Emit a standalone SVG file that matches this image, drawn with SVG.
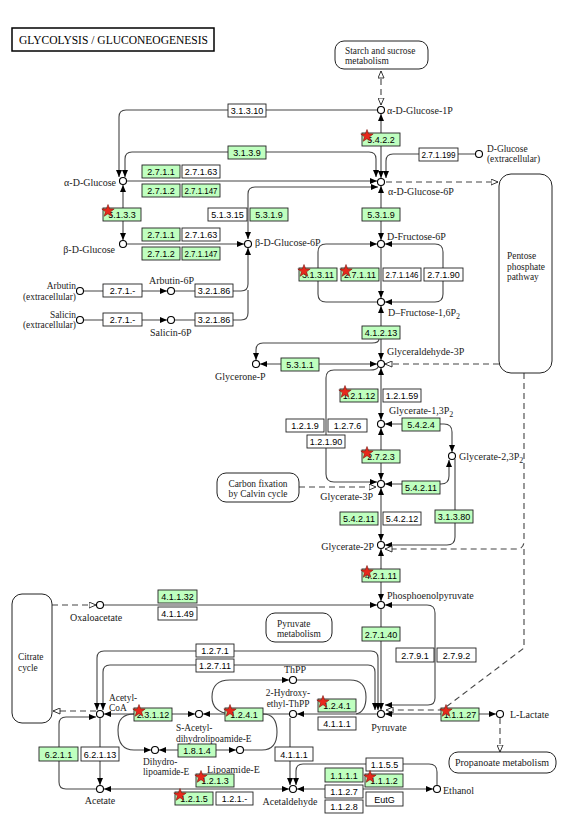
<svg xmlns="http://www.w3.org/2000/svg" xmlns:xlink="http://www.w3.org/1999/xlink" width="571" height="820" viewBox="0 0 571 820">
<style>
.ln{fill:none;stroke:#444;stroke-width:1.1}
.dl{fill:none;stroke:#444;stroke-width:1.1;stroke-dasharray:6,4}
.g{fill:#bfffbf;stroke:#222;stroke-width:0.9}
.w{fill:#fff;stroke:#222;stroke-width:0.9}
.et{font-family:"Liberation Sans",Arial,sans-serif;font-size:9px;text-anchor:middle;fill:#000}
.ct{font-family:"Liberation Serif","Times New Roman",serif;font-size:10px;fill:#222}
.ml{font-size:9.4px}
.m{text-anchor:middle}
.e{text-anchor:end}
.cp{fill:#fff;stroke:#000;stroke-width:1.1}
.map{fill:#fff;stroke:#222;stroke-width:1}
</style>
<defs>
<marker id="a" viewBox="0 0 7 6" refX="7" refY="3" markerWidth="7" markerHeight="6" markerUnits="userSpaceOnUse" orient="auto-start-reverse"><path d="M0,0 L7,3 L0,6 z" fill="#000"/></marker>
<marker id="o" viewBox="0 0 8 7" refX="7.5" refY="3.5" markerWidth="8" markerHeight="7" markerUnits="userSpaceOnUse" orient="auto-start-reverse"><path d="M0.5,0.5 L7.5,3.5 L0.5,6.5 z" fill="#fff" stroke="#222" stroke-width="0.9"/></marker>
<path id="star" d="M0,-6.5 L1.59,-2.18 L6.18,-2.01 L2.57,0.83 L3.82,5.26 L0,2.7 L-3.82,5.26 L-2.57,0.83 L-6.18,-2.01 L-1.59,-2.18 Z" fill="#e8281c" stroke="#7a1a10" stroke-width="0.6"/>
</defs>
<rect width="571" height="820" fill="#fff"/>

<g id="title"><rect x="12" y="28" width="202" height="23" fill="#fff" stroke="#000" stroke-width="1.5"/><text x="19" y="44" font-family="Liberation Serif,serif" font-size="11.5" textLength="189" lengthAdjust="spacingAndGlyphs">GLYCOLYSIS / GLUCONEOGENESIS</text></g>

<g id="connectors">
<path class="dl" d="M381,105 L381,71" marker-start="url(#o)" marker-end="url(#o)"/>
<path class="ln" d="M377,110 L126,110 Q119,110 119,117 L119,177" marker-end="url(#a)"/>
<path class="ln" d="M376,177 L376,159 Q376,152 369,152 L132,152 Q125,152 125,159 L125,177" marker-start="url(#a)" marker-end="url(#a)"/>
<path class="ln" d="M381,114 L381,178" marker-start="url(#a)" marker-end="url(#a)"/>
<path class="ln" d="M475,154 L393,154 Q386,154 386,161 L386,178" marker-end="url(#a)"/>
<path class="ln" d="M127,181 L377,181" marker-end="url(#a)"/>
<path class="ln" d="M248,239 L248,194 Q248,187 255,187 L378,187" marker-start="url(#a)" marker-end="url(#a)"/>
<path class="ln" d="M123,185 L123,240" marker-start="url(#a)" marker-end="url(#a)"/>
<path class="ln" d="M127,244 L244,244" marker-end="url(#a)"/>
<path class="ln" d="M84,291 L167,291" marker-end="url(#a)"/>
<path class="ln" d="M175,291 L241,291 Q248,291 248,284 L248,248" marker-end="url(#a)"/>
<path class="ln" d="M84,320 L167,320" marker-end="url(#a)"/>
<path class="ln" d="M175,320 L241,320 Q248,320 248,313 L248,290"/>
<path class="dl" d="M386,182 L498,182" marker-end="url(#o)"/>
<path class="ln" d="M381,186 L381,240" marker-start="url(#a)" marker-end="url(#a)"/>
<path class="ln" d="M381,248 L381,298" marker-end="url(#a)"/>
<path class="ln" d="M377,302 L326,302 Q318,302 318,294 L318,252 Q318,244 326,244 L377,244" marker-end="url(#a)"/>
<path class="ln" d="M385,244 L435,244 Q443,244 443,252 L443,294 Q443,302 435,302 L385,302" marker-start="url(#a)" marker-end="url(#a)"/>
<path class="ln" d="M381,306 L381,360" marker-start="url(#a)" marker-end="url(#a)"/>
<path class="ln" d="M379,339 Q379,343 372,343 L263,343 Q256,343 256,350 L256,360" marker-end="url(#a)"/>
<path class="ln" d="M260,364 L377,364" marker-start="url(#a)" marker-end="url(#a)"/>
<path class="dl" d="M499,364 L385,364" marker-end="url(#o)"/>
<path class="ln" d="M381,368 L381,420" marker-start="url(#a)" marker-end="url(#a)"/>
<path class="ln" d="M378,367 Q377,370 370,370 L334,370 Q326,370 326,378 L326,474 Q326,482 334,482 L377,482" marker-end="url(#a)"/>
<path class="ln" d="M385,424 L444,424 Q452,424 452,432 L452,452" marker-start="url(#a)" marker-end="url(#a)"/>
<path class="ln" d="M381,428 L381,480" marker-start="url(#a)" marker-end="url(#a)"/>
<path class="ln" d="M385,484 L441,484 Q449,484 449,476 L449,460" marker-start="url(#a)" marker-end="url(#a)"/>
<path class="dl" d="M299,487 L376,487" marker-end="url(#o)"/>
<path class="ln" d="M455,459 L455,537 Q455,545 447,545 L385,545" marker-end="url(#a)"/>
<path class="ln" d="M381,488 L381,541" marker-start="url(#a)" marker-end="url(#a)"/>
<path class="dl" d="M524,373 L524,541 Q524,549 516,549 L385,549" marker-end="url(#o)"/>
<path class="dl" d="M524,549 L524,648 L442,710 L386,710" marker-end="url(#o)"/>
<path class="ln" d="M381,549 L381,601" marker-start="url(#a)" marker-end="url(#a)"/>
<path class="dl" d="M52,605 L96,605" marker-end="url(#o)"/>
<path class="ln" d="M104,605 L377,605" marker-end="url(#a)"/>
<path class="ln" d="M385,605 L427,605 Q435,605 435,613 L435,698 Q435,705 428,705 L385,705" marker-start="url(#a)" marker-end="url(#a)"/>
<path class="ln" d="M381,609 L381,710" marker-end="url(#a)"/>
<path class="ln" d="M378,710 L378,658 Q378,651 371,651 L104,651 Q97,651 97,658 L97,710" marker-start="url(#a)" marker-end="url(#a)"/>
<path class="ln" d="M375,710 L375,672 Q375,665 368,665 L110,665 Q103,665 103,672 L103,710" marker-start="url(#a)" marker-end="url(#a)"/>
<path class="ln" d="M377,714 L297,714" marker-end="url(#a)"/>
<path class="ln" d="M289,714 L203,714" marker-end="url(#a)"/>
<path class="ln" d="M195,714 L104,714" marker-start="url(#a)" marker-end="url(#a)"/>
<path class="ln" d="M230,714 Q212,712 212,697 Q212,680 230,680 L289,680" marker-end="url(#a)"/>
<path class="ln" d="M297,680 L350,680 Q366,680 366,697 Q366,712 356,714"/>
<path class="ln" d="M290,718 L290,785" marker-end="url(#a)"/>
<path class="ln" d="M134,714 Q118,714 118,730 Q118,750 134,750 L151,750" marker-end="url(#a)"/>
<path class="ln" d="M159,750 L236,750" marker-start="url(#a)" marker-end="url(#a)"/>
<path class="ln" d="M244,750 L262,750 Q277,750 277,732 Q277,714 263,714"/>
<path class="ln" d="M100,718 L100,785" marker-end="url(#a)"/>
<path class="ln" d="M96,789 L66,789 Q59,789 59,782 L59,724 Q59,717 66,717 L96,717" marker-end="url(#a)"/>
<path class="dl" d="M96,711 L53,711" marker-end="url(#o)"/>
<path class="ln" d="M104,789 L289,789" marker-start="url(#a)" marker-end="url(#a)"/>
<path class="ln" d="M297,789 L433,789" marker-start="url(#a)" marker-end="url(#a)"/>
<path class="ln" d="M437,785 L437,772 Q437,764 429,764 L303,764 Q296,764 296,771 L296,785" marker-end="url(#a)"/>
<path class="ln" d="M385,714 L496,714" marker-start="url(#a)" marker-end="url(#a)"/>
<path class="dl" d="M500,718 L500,752" marker-end="url(#o)"/>
</g>

<g id="maps" class="ct">
<g id="m-starch"><rect class="map" x="335" y="41" width="93" height="28" rx="9"/><text class="ml" x="345" y="53.5">Starch and sucrose</text><text class="ml" x="345" y="64">metabolism</text></g>
<g id="m-ppp"><rect class="map" x="499" y="174" width="53" height="199" rx="12"/><text class="ml" x="507" y="259">Pentose</text><text class="ml" x="507" y="269.6">phosphate</text><text class="ml" x="507" y="280.2">pathway</text></g>
<g id="m-calvin"><rect class="map" x="217" y="473" width="82" height="29" rx="9"/><text class="ml m" x="258" y="486.5">Carbon fixation</text><text class="ml m" x="258" y="497">by Calvin cycle</text></g>
<g id="m-tca"><rect class="map" x="12" y="594" width="40" height="129" rx="10"/><text class="ml" x="18" y="660">Citrate</text><text class="ml" x="18" y="670.6">cycle</text></g>
<g id="m-pyr"><rect class="map" x="266" y="613" width="66" height="29" rx="9"/><text class="ml" x="277" y="626.5">Pyruvate</text><text class="ml" x="277" y="637">metabolism</text></g>
<g id="m-prop"><rect class="map" x="449" y="752" width="107" height="21" rx="9"/><text class="m" x="502" y="766">Propanoate metabolism</text></g>
</g>

<g id="compounds" class="ct">
<g id="c-g1p"><circle class="cp" cx="381" cy="110" r="3.5"/><text x="387" y="114">α-D-Glucose-1P</text></g>
<g id="c-aglc"><circle class="cp" cx="123" cy="181" r="3.5"/><text class="e" x="116" y="185.5">α-D-Glucose</text></g>
<g id="c-bglc"><circle class="cp" cx="123" cy="244" r="3.5"/><text class="e" x="115" y="253">β-D-Glucose</text></g>
<g id="c-bg6p"><circle class="cp" cx="248" cy="244" r="3.5"/><text x="255" y="246">β-D-Glucose-6P</text></g>
<g id="c-g6p"><circle class="cp" cx="381" cy="182" r="3.5"/><text x="388" y="195">α-D-Glucose-6P</text></g>
<g id="c-glcex"><circle class="cp" cx="479" cy="154" r="3.5"/><text class="ml" x="487" y="151.5">D-Glucose</text><text class="ml" x="487" y="162">(extracellular)</text></g>
<g id="c-arb"><circle class="cp" cx="80" cy="291" r="3.5"/><text class="ml e" x="76" y="289">Arbutin</text><text class="ml e" x="76" y="299.6">(extracellular)</text></g>
<g id="c-arb6p"><circle class="cp" cx="171" cy="291" r="3.5"/><text x="149" y="284">Arbutin-6P</text></g>
<g id="c-sal"><circle class="cp" cx="80" cy="320" r="3.5"/><text class="ml e" x="76" y="317.5">Salicin</text><text class="ml e" x="76" y="328.1">(extracellular)</text></g>
<g id="c-sal6p"><circle class="cp" cx="171" cy="320" r="3.5"/><text x="150" y="336">Salicin-6P</text></g>
<g id="c-f6p"><circle class="cp" cx="381" cy="244" r="3.5"/><text x="387" y="240">D-Fructose-6P</text></g>
<g id="c-fbp"><circle class="cp" cx="381" cy="302" r="3.5"/><text x="388" y="316">D–Fructose-1,6P<tspan dy="3" font-size="8">2</tspan></text></g>
<g id="c-gap"><circle class="cp" cx="381" cy="364" r="3.5"/><text x="387" y="355">Glyceraldehyde-3P</text></g>
<g id="c-dhap"><circle class="cp" cx="256" cy="364" r="3.5"/><text x="215" y="380">Glycerone-P</text></g>
<g id="c-bpg"><circle class="cp" cx="381" cy="424" r="3.5"/><text x="389" y="414">Glycerate-1,3P<tspan dy="3" font-size="8">2</tspan></text></g>
<g id="c-23bpg"><circle class="cp" cx="452" cy="456" r="3.5"/><text x="459" y="460">Glycerate-2,3P<tspan dy="3" font-size="8">2</tspan></text></g>
<g id="c-3pg"><circle class="cp" cx="381" cy="484" r="3.5"/><text class="e" x="373" y="500">Glycerate-3P</text></g>
<g id="c-2pg"><circle class="cp" cx="381" cy="545" r="3.5"/><text class="e" x="374" y="550">Glycerate-2P</text></g>
<g id="c-pep"><circle class="cp" cx="381" cy="605" r="3.5"/><text x="387" y="599">Phosphoenolpyruvate</text></g>
<g id="c-oaa"><circle class="cp" cx="100" cy="605" r="3.5"/><text x="70" y="621">Oxaloacetate</text></g>
<g id="c-pyr"><circle class="cp" cx="381" cy="714" r="3.5"/><text class="m" x="389" y="731">Pyruvate</text></g>
<g id="c-lac"><circle class="cp" cx="500" cy="714" r="3.5"/><text x="510" y="718">L-Lactate</text></g>
<g id="c-thpp"><circle class="cp" cx="293" cy="680" r="3.5"/><text class="m" x="295" y="673">ThPP</text></g>
<g id="c-hethpp"><circle class="cp" cx="293" cy="714" r="3.5"/><text class="ml m" x="288" y="696">2-Hydroxy-</text><text class="ml m" x="288" y="706.6">ethyl-ThPP</text></g>
<g id="c-sacdl"><circle class="cp" cx="199" cy="714" r="3.5"/><text class="ml" x="176" y="731">S-Acetyl-</text><text class="ml" x="176" y="741.6">dihydrolipoamide-E</text></g>
<g id="c-accoa"><circle class="cp" cx="100" cy="714" r="3.5"/><text class="ml" x="109" y="700.5">Acetyl-</text><text class="ml" x="109" y="711.1">CoA</text></g>
<g id="c-dhl"><circle class="cp" cx="155" cy="750" r="3.5"/><text class="ml" x="143" y="764.5">Dihydro-</text><text class="ml" x="143" y="775.1">lipoamide-E</text></g>
<g id="c-lip"><circle class="cp" cx="240" cy="750" r="3.5"/><text x="207" y="772.5">Lipoamide-E</text></g>
<g id="c-ace"><circle class="cp" cx="100" cy="789" r="3.5"/><text class="m" x="100" y="803.5">Acetate</text></g>
<g id="c-acald"><circle class="cp" cx="293" cy="789" r="3.5"/><text class="m" x="290" y="805">Acetaldehyde</text></g>
<g id="c-etoh"><circle class="cp" cx="437" cy="789" r="3.5"/><text x="443" y="793.5">Ethanol</text></g>
</g>

<g id="enzymes" class="et">
<g id="e-3.1.3.10"><rect class="w" x="228" y="104" width="38" height="13"/><text x="247" y="114">3.1.3.10</text></g>
<g id="e-3.1.3.9"><rect class="g" x="228" y="146" width="38" height="13"/><text x="247" y="156">3.1.3.9</text></g>
<g id="e-5.4.2.2"><rect class="g" x="362" y="133" width="38" height="13"/><text x="381" y="143">5.4.2.2</text><use href="#star" x="367" y="136"/></g>
<g id="e-2.7.1.199"><rect class="w" x="419" y="148" width="39" height="13"/><text x="438.5" y="158" textLength="34" lengthAdjust="spacingAndGlyphs">2.7.1.199</text></g>
<g id="e-2.7.1.1a"><rect class="g" x="142" y="165" width="38" height="13"/><text x="161" y="175">2.7.1.1</text></g>
<g id="e-2.7.1.63a"><rect class="w" x="182" y="165" width="38" height="13"/><text x="201" y="175">2.7.1.63</text></g>
<g id="e-2.7.1.2a"><rect class="g" x="142" y="184" width="38" height="13"/><text x="161" y="194">2.7.1.2</text></g>
<g id="e-2.7.1.147a"><rect class="g" x="182" y="184" width="38" height="13"/><text x="201" y="194" textLength="33" lengthAdjust="spacingAndGlyphs">2.7.1.147</text></g>
<g id="e-5.1.3.3"><rect class="g" x="103" y="208" width="38" height="13"/><text x="122" y="218">5.1.3.3</text><use href="#star" x="108" y="211"/></g>
<g id="e-5.1.3.15"><rect class="w" x="208" y="208" width="39" height="13"/><text x="227.5" y="218">5.1.3.15</text></g>
<g id="e-5.3.1.9a"><rect class="g" x="250" y="208" width="38" height="13"/><text x="269" y="218">5.3.1.9</text></g>
<g id="e-2.7.1.1b"><rect class="g" x="142" y="228" width="38" height="13"/><text x="161" y="238">2.7.1.1</text></g>
<g id="e-2.7.1.63b"><rect class="w" x="182" y="228" width="38" height="13"/><text x="201" y="238">2.7.1.63</text></g>
<g id="e-2.7.1.2b"><rect class="g" x="142" y="247" width="38" height="13"/><text x="161" y="257">2.7.1.2</text></g>
<g id="e-2.7.1.147b"><rect class="g" x="182" y="247" width="38" height="13"/><text x="201" y="257" textLength="33" lengthAdjust="spacingAndGlyphs">2.7.1.147</text></g>
<g id="e-2.7.1.-a"><rect class="w" x="103" y="284" width="39" height="13"/><text x="122.5" y="294">2.7.1.-</text></g>
<g id="e-3.2.1.86a"><rect class="w" x="195" y="284" width="38" height="13"/><text x="214" y="294">3.2.1.86</text></g>
<g id="e-2.7.1.-b"><rect class="w" x="103" y="313" width="39" height="13"/><text x="122.5" y="323">2.7.1.-</text></g>
<g id="e-3.2.1.86b"><rect class="w" x="195" y="313" width="38" height="13"/><text x="214" y="323">3.2.1.86</text></g>
<g id="e-5.3.1.9b"><rect class="g" x="362" y="208" width="38" height="13"/><text x="381" y="218">5.3.1.9</text></g>
<g id="e-3.1.3.11"><rect class="g" x="299" y="268" width="38" height="13"/><text x="318" y="278">3.1.3.11</text><use href="#star" x="304" y="271"/></g>
<g id="e-2.7.1.11"><rect class="g" x="341" y="268" width="38" height="13"/><text x="360" y="278">2.7.1.11</text><use href="#star" x="346" y="271"/></g>
<g id="e-2.7.1.146"><rect class="w" x="383" y="268" width="38" height="13"/><text x="402" y="278" textLength="33" lengthAdjust="spacingAndGlyphs">2.7.1.146</text></g>
<g id="e-2.7.1.90"><rect class="w" x="424" y="268" width="39" height="13"/><text x="443.5" y="278">2.7.1.90</text></g>
<g id="e-4.1.2.13"><rect class="g" x="362" y="326" width="38" height="13"/><text x="381" y="336">4.1.2.13</text></g>
<g id="e-5.3.1.1"><rect class="g" x="281" y="358" width="38" height="13"/><text x="300" y="368">5.3.1.1</text></g>
<g id="e-1.2.1.12"><rect class="g" x="340" y="389" width="38" height="13"/><text x="359" y="399">1.2.1.12</text><use href="#star" x="345" y="392"/></g>
<g id="e-1.2.1.59"><rect class="w" x="383" y="389" width="38" height="13"/><text x="402" y="399">1.2.1.59</text></g>
<g id="e-1.2.1.9"><rect class="w" x="286" y="419" width="38" height="13"/><text x="305" y="429">1.2.1.9</text></g>
<g id="e-1.2.7.6"><rect class="w" x="328" y="419" width="39" height="13"/><text x="347.5" y="429">1.2.7.6</text></g>
<g id="e-1.2.1.90"><rect class="w" x="307" y="435" width="38" height="13"/><text x="326" y="445">1.2.1.90</text></g>
<g id="e-5.4.2.4"><rect class="g" x="402" y="418" width="38" height="13"/><text x="421" y="428">5.4.2.4</text></g>
<g id="e-2.7.2.3"><rect class="g" x="362" y="450" width="38" height="13"/><text x="381" y="460">2.7.2.3</text><use href="#star" x="367" y="453"/></g>
<g id="e-5.4.2.11a"><rect class="g" x="402" y="481" width="38" height="13"/><text x="421" y="491">5.4.2.11</text></g>
<g id="e-5.4.2.11b"><rect class="g" x="340" y="512" width="38" height="13"/><text x="359" y="522">5.4.2.11</text></g>
<g id="e-5.4.2.12"><rect class="w" x="383" y="512" width="38" height="13"/><text x="402" y="522">5.4.2.12</text></g>
<g id="e-3.1.3.80"><rect class="g" x="435" y="510" width="38" height="13"/><text x="454" y="520">3.1.3.80</text></g>
<g id="e-4.2.1.11"><rect class="g" x="362" y="569" width="38" height="13"/><text x="381" y="579">4.2.1.11</text><use href="#star" x="367" y="572"/></g>
<g id="e-4.1.1.32"><rect class="g" x="158" y="590" width="39" height="13"/><text x="177.5" y="600">4.1.1.32</text></g>
<g id="e-4.1.1.49"><rect class="w" x="158" y="607" width="39" height="13"/><text x="177.5" y="617">4.1.1.49</text></g>
<g id="e-2.7.1.40"><rect class="g" x="362" y="627" width="38" height="14"/><text x="381" y="637.5">2.7.1.40</text></g>
<g id="e-2.7.9.1"><rect class="w" x="396" y="648" width="38" height="14"/><text x="415" y="658.5">2.7.9.1</text></g>
<g id="e-2.7.9.2"><rect class="w" x="437" y="648" width="39" height="14"/><text x="456.5" y="658.5">2.7.9.2</text></g>
<g id="e-1.2.7.1"><rect class="w" x="196" y="644" width="38" height="13"/><text x="215" y="654">1.2.7.1</text></g>
<g id="e-1.2.7.11"><rect class="w" x="196" y="659" width="38" height="13"/><text x="215" y="669">1.2.7.11</text></g>
<g id="e-2.3.1.12"><rect class="g" x="134" y="708" width="38" height="13"/><text x="153" y="718">2.3.1.12</text><use href="#star" x="139" y="711"/></g>
<g id="e-1.2.4.1a"><rect class="g" x="225" y="708" width="38" height="13"/><text x="244" y="718">1.2.4.1</text><use href="#star" x="230" y="711"/></g>
<g id="e-1.2.4.1b"><rect class="g" x="318" y="699" width="38" height="13"/><text x="337" y="709">1.2.4.1</text><use href="#star" x="323" y="702"/></g>
<g id="e-4.1.1.1a"><rect class="w" x="318" y="717" width="38" height="13"/><text x="337" y="727">4.1.1.1</text></g>
<g id="e-1.1.1.27"><rect class="g" x="441" y="708" width="38" height="13"/><text x="460" y="718">1.1.1.27</text><use href="#star" x="446" y="711"/></g>
<g id="e-6.2.1.1"><rect class="g" x="39" y="747" width="39" height="14"/><text x="58.5" y="757.5">6.2.1.1</text></g>
<g id="e-6.2.1.13"><rect class="w" x="81" y="747" width="38" height="14"/><text x="100" y="757.5">6.2.1.13</text></g>
<g id="e-1.8.1.4"><rect class="g" x="178" y="744" width="38" height="13"/><text x="197" y="754">1.8.1.4</text></g>
<g id="e-4.1.1.1b"><rect class="w" x="275" y="747" width="38" height="14"/><text x="294" y="757.5">4.1.1.1</text></g>
<g id="e-1.2.1.3"><rect class="g" x="196" y="774" width="38" height="13"/><text x="215" y="784">1.2.1.3</text><use href="#star" x="201" y="777"/></g>
<g id="e-1.2.1.5"><rect class="g" x="175" y="792" width="38" height="13"/><text x="194" y="802">1.2.1.5</text><use href="#star" x="180" y="795"/></g>
<g id="e-1.2.1.-"><rect class="w" x="216" y="792" width="37" height="13"/><text x="234.5" y="802">1.2.1.-</text></g>
<g id="e-1.1.5.5"><rect class="w" x="366" y="758" width="37" height="13"/><text x="384.5" y="768">1.1.5.5</text></g>
<g id="e-1.1.1.1"><rect class="g" x="325" y="768" width="38" height="14"/><text x="344" y="778.5">1.1.1.1</text></g>
<g id="e-1.1.1.2"><rect class="g" x="365" y="774" width="38" height="13"/><text x="384" y="784">1.1.1.2</text><use href="#star" x="370" y="777"/></g>
<g id="e-1.1.2.7"><rect class="w" x="325" y="785" width="38" height="13"/><text x="344" y="795">1.1.2.7</text></g>
<g id="e-EutG"><rect class="w" x="366" y="792" width="37" height="14"/><text x="384.5" y="802.5">EutG</text></g>
<g id="e-1.1.2.8"><rect class="w" x="325" y="800" width="38" height="13"/><text x="344" y="810">1.1.2.8</text></g>
</g>
</svg>
